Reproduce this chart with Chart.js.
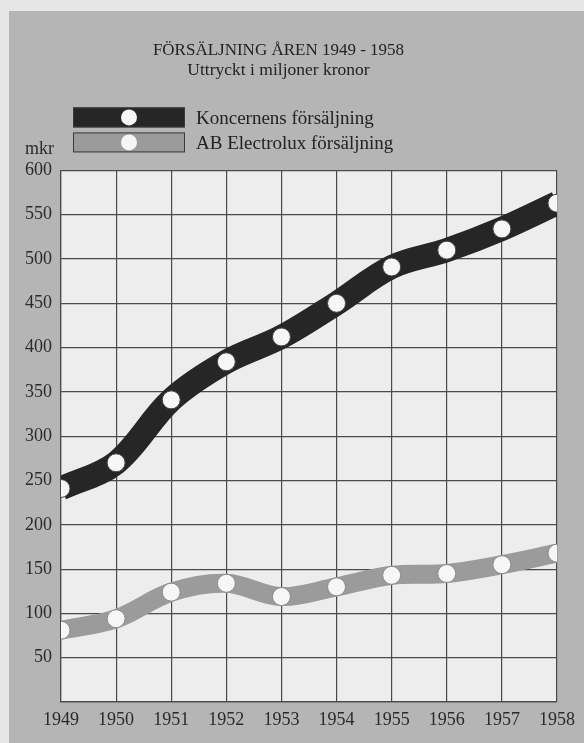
<!DOCTYPE html>
<html lang="sv">
<head>
<meta charset="utf-8">
<title>Försäljning åren 1949 - 1958</title>
<script src="https://cdn.jsdelivr.net/npm/chart.js@4.4.1/dist/chart.umd.min.js"></script>
<style>
    html, body { margin: 0; padding: 0; background: #e8e8e8; }
    #salesChart { display: block; }
</style>
</head>
<body>
<canvas id="salesChart" width="584" height="743"></canvas>
<script>
// Values (miljoner kronor)
const years = ["1949", "1950", "1951", "1952", "1953", "1954", "1955", "1956", "1957", "1958"];
const koncernen = [241, 270, 341, 384, 412, 450, 491, 510, 534, 563];
const electrolux = [81, 94, 124, 134, 119, 130, 143, 145, 155, 168];
const seriesNames = ["Koncernens försäljning", "AB Electrolux försäljning"];
const yTicks = [50, 100, 150, 200, 250, 300, 350, 400, 450, 500, 550, 600];

const serif = "'Liberation Serif', 'DejaVu Serif', serif";
const gridColor = "#4a4a4a";

document.addEventListener("DOMContentLoaded", function () {
    // paper, grey panel and plot background
    const backdrop = {
        id: "backdrop",
        beforeDraw(chart) {
            const ctx = chart.ctx;
            const a = chart.chartArea;
            ctx.save();
            ctx.fillStyle = "#e6e6e6";
            ctx.fillRect(0, 0, chart.width, chart.height);
            ctx.fillStyle = "#b5b5b5";
            ctx.fillRect(9, 11, chart.width - 9, chart.height - 11);
            ctx.fillStyle = "#ededed";
            ctx.fillRect(a.left, a.top, a.right - a.left, a.bottom - a.top);
            ctx.restore();
        }
    };

    // legend bars with the white dot, plus the "mkr" unit over the y axis
    const bandLegend = {
        id: "bandLegend",
        afterDraw(chart) {
            const ctx = chart.ctx;
            const a = chart.chartArea;
            ctx.save();
            chart.data.datasets.forEach((ds, i) => {
                let x = a.left + 12;
                let y = a.top - 63 + i * 25;
                ctx.fillStyle = ds.borderColor;
                ctx.fillRect(x, y, 112, 20);
                ctx.strokeStyle = "#3a3a3a";
                ctx.lineWidth = 1;
                ctx.strokeRect(x + 0.5, y + 0.5, 111, 19);
                ctx.beginPath();
                ctx.arc(x + 56, y + 10, 8, 0, Math.PI * 2);
                ctx.fillStyle = "#f6f6f6";
                ctx.fill();
                ctx.fillStyle = "#222";
                ctx.font = "19px " + serif;
                ctx.textBaseline = "middle";
                ctx.textAlign = "left";
                ctx.fillText(ds.label, x + 123, y + 12);
            });
            ctx.font = "18px " + serif;
            ctx.fillStyle = "#2a2a2a";
            ctx.textAlign = "right";
            ctx.textBaseline = "middle";
            ctx.fillText("mkr", a.left - 7, a.top - 21);
            ctx.restore();
        }
    };

    let ctx = document.getElementById("salesChart").getContext("2d");
    new Chart(ctx, {
        type: "line",
        data: {
            labels: years,
            datasets: [
                {
                    label: seriesNames[0],
                    data: koncernen,
                    borderColor: "#262626",
                    borderWidth: 24,
                    tension: 0.35,
                    clip: 0,
                    pointRadius: 9,
                    pointBackgroundColor: "#f6f6f6",
                    pointBorderColor: "#444",
                    pointBorderWidth: 1
                },
                {
                    label: seriesNames[1],
                    data: electrolux,
                    borderColor: "#9b9b9b",
                    borderWidth: 19,
                    tension: 0.35,
                    clip: 0,
                    pointRadius: 9,
                    pointBackgroundColor: "#f6f6f6",
                    pointBorderColor: "#8a8a8a",
                    pointBorderWidth: 1
                }
            ]
        },
        options: {
            responsive: false,
            animation: false,
            layout: { padding: { left: 0, right: 27, top: 0, bottom: 0 } },
            plugins: {
                legend: { display: false },
                tooltip: { enabled: false },
                title: {
                    display: true,
                    text: "FÖRSÄLJNING ÅREN 1949 - 1958",
                    color: "#222",
                    font: { family: serif, size: 17, weight: "normal", lineHeight: 1.2 },
                    padding: { top: 40, bottom: 0 }
                },
                subtitle: {
                    display: true,
                    text: "Uttryckt i miljoner kronor",
                    color: "#222",
                    font: { family: serif, size: 17.5, weight: "normal", lineHeight: 1.2 },
                    padding: { top: 0, bottom: 89 }
                }
            },
            scales: {
                x: {
                    offset: false,
                    grid: { color: gridColor, lineWidth: 1.2, drawTicks: false },
                    border: { display: true, color: gridColor, width: 1.2 },
                    ticks: {
                        color: "#2a2a2a",
                        font: { family: serif, size: 18 },
                        padding: 7,
                        maxRotation: 0,
                        autoSkip: false
                    },
                    afterFit: function (scale) { scale.height = 41; }
                },
                y: {
                    min: 0,
                    max: 600,
                    afterBuildTicks: function (scale) {
                        scale.ticks = [0].concat(yTicks).map(v => ({ value: v }));
                    },
                    grid: { color: gridColor, lineWidth: 1.2, drawTicks: false },
                    border: { display: true, color: gridColor, width: 1.2 },
                    ticks: {
                        color: "#2a2a2a",
                        font: { family: serif, size: 18 },
                        padding: 9,
                        callback: v => (v === 0 ? "" : v)
                    },
                    afterFit: function (scale) { scale.width = 61; }
                }
            }
        },
        plugins: [backdrop, bandLegend]
    });
});
</script>
</body>
</html>
